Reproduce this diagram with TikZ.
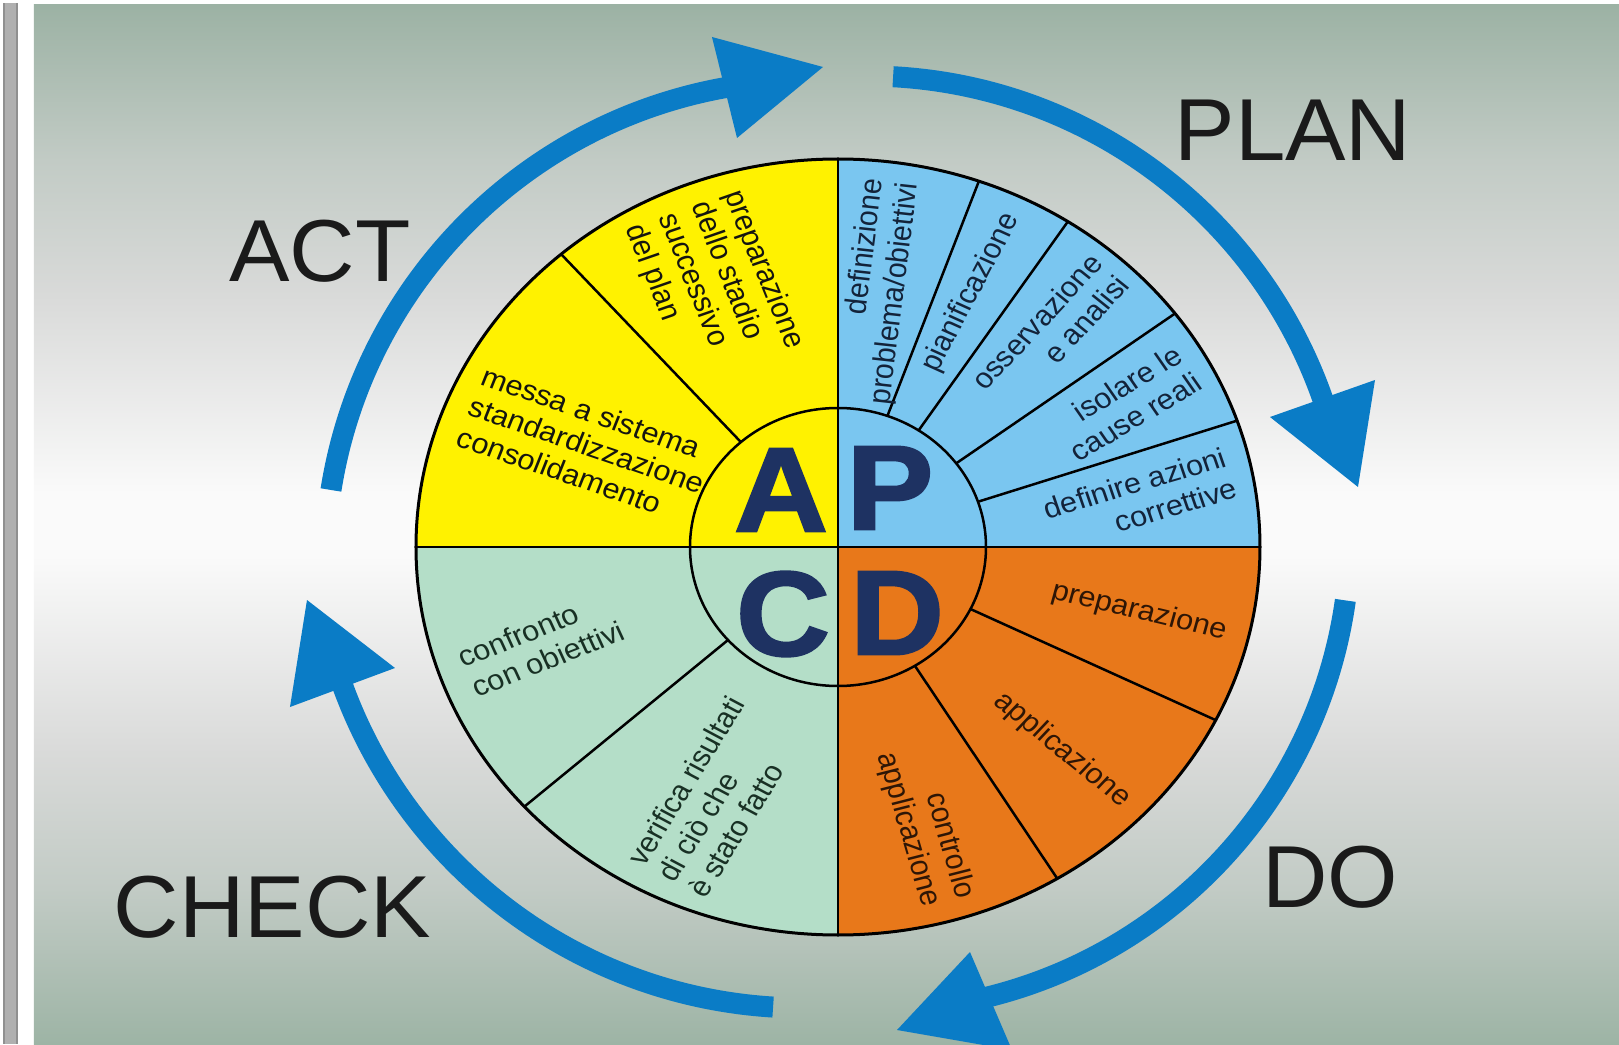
\documentclass[tikz,border=0pt]{standalone}
\usepackage{fontspec}
\setmainfont{Liberation Sans}
\newfontfamily\heavyfont[FakeBold=2]{Liberation Sans}
\usetikzlibrary{calc}
\definecolor{ylw}{HTML}{FFF200}
\definecolor{blu}{HTML}{7AC6F0}
\definecolor{org}{HTML}{E8781A}
\definecolor{grn}{HTML}{B4DEC8}
\definecolor{navy}{HTML}{1E3262}
\definecolor{arrblue}{HTML}{0A7CC6}
\definecolor{bigtext}{HTML}{1A1A1A}
\definecolor{bgA}{HTML}{9DB4A5}
\definecolor{bgB}{HTML}{C2CBC5}
\definecolor{bgC}{HTML}{D9DAD9}
\definecolor{bgD}{HTML}{FAFAFA}
\definecolor{bgE}{HTML}{9CB2A4}
\definecolor{barGray}{HTML}{B0B0B0}
\definecolor{barDark}{HTML}{909090}
\definecolor{txtY}{HTML}{151510}
\definecolor{txtB}{HTML}{13233A}
\definecolor{txtG}{HTML}{183024}
\definecolor{txtO}{HTML}{2E1606}
\pgfdeclareverticalshading{bgshade}{100bp}{color(0bp)=(bgA); color(25bp)=(bgA); color(32.5bp)=(bgB); color(39bp)=(bgC); color(48.5bp)=(bgD); color(51.5bp)=(bgD); color(61bp)=(bgC); color(67.5bp)=(bgB); color(75bp)=(bgE); color(100bp)=(bgE)}
\begin{document}
\begin{tikzpicture}[x=1pt,y=1pt,
  lbl/.style={font=\fontsize{28.5}{32.5}\selectfont, inner sep=0pt, xscale=1.08},
  big/.style={font=\fontsize{88}{90}\selectfont, text=bigtext, inner sep=0pt, xscale=1.03},
  letter/.style={font=\heavyfont\bfseries\fontsize{120}{120}\selectfont, text=navy, inner sep=0pt, xscale=1.08},
  arcline/.style={line width=21pt, draw=arrblue},
  arrhead/.style={fill=arrblue},
  rim/.style={draw=black, line width=3pt},
  divider/.style={draw=black, line width=2.5pt}]
% canvas
\useasboundingbox (-838,-497) rectangle (781,547);
\fill[white] (-838,-497) rectangle (781,547);
\shade[shading=bgshade] (-804,-497) rectangle (781,542);
\fill[barGray] (-835,-497) rectangle (-820,544);
\fill[barDark] (-835,-497) rectangle (-833,544);
\fill[barDark] (-822,-497) rectangle (-820,544);
% quadrants
\def\RX{422pt}\def\RY{388pt}
\fill[ylw] (0,0) -- (90:422 and 388) arc[start angle=90, end angle=180, x radius=\RX, y radius=\RY] -- cycle;
\fill[blu] (0,0) -- (0:422 and 388) arc[start angle=0, end angle=90, x radius=\RX, y radius=\RY] -- cycle;
\fill[org] (0,0) -- (270:422 and 388) arc[start angle=270, end angle=360, x radius=\RX, y radius=\RY] -- cycle;
\fill[grn] (0,0) -- (180:422 and 388) arc[start angle=180, end angle=270, x radius=\RX, y radius=\RY] -- cycle;
% dividers
\foreach \t in {131,70.5,57,37,19,333.5,301.3,222}
  \draw[divider] (\t:148 and 139) -- (\t:422 and 388);
\draw[divider] (-422,0) -- (422,0);
\draw[divider] (0,-388) -- (0,388);
\draw[divider] (0,0) ellipse[x radius=148pt, y radius=139pt];
\draw[rim] (0,0) ellipse[x radius=\RX, y radius=\RY];
% letters
\node[letter] (lA) at (-57,57) {A};
\node[letter] (lP) at (52,59) {P};
\node[letter] (lC) at (-55,-67) {C};
\node[letter] (lD) at (59,-66) {D};
% yellow labels
\node[lbl, text=txtY, align=left, rotate=-69.5] (y1) at (-124,260) {preparazione\\dello stadio\\successivo\\del plan};
\node[lbl, text=txtY, align=left, rotate=-20.3] (y2) at (-251,102) {messa a sistema\\standardizzazione\\consolidamento};
% blue labels
\node[lbl, text=txtB, align=right, rotate=83.2] (b1) at (40,255) {definizione\\problema/obiettivi};
\node[lbl, text=txtB, rotate=64.0] (b2) at (133,254) {pianificazione};
\node[lbl, text=txtB, align=right, rotate=49.1] (b3) at (212,214.6) {osservazione\\e analisi};
\node[lbl, text=txtB, align=right, rotate=32.7] (b4) at (288,144) {isolare le\\cause reali};
\node[lbl, text=txtB, align=right, rotate=17.6] (b5) at (302,48.5) {definire azioni\\correttive};
% orange labels
\node[lbl, text=txtO, rotate=-14.4] (o1) at (301,-65) {preparazione};
\node[lbl, text=txtO, rotate=-41.2] (o2) at (224,-203) {applicazione};
\node[lbl, text=txtO, align=right, rotate=-74.7] (o3) at (87,-278.6) {controllo\\applicazione};
% green labels
\node[lbl, text=txtG, align=left, rotate=23.0] (g1) at (-297,-97) {confronto\\con obiettivi};
\node[lbl, text=txtG, align=left, rotate=60.1] (g2) at (-122,-250) {verifica risultati\\di ciò che\\è stato fatto};
% cycle arrows: circular arcs with triangular heads
\draw[arcline] ($(-27,-19)+(171:486)$) arc[start angle=171, end angle=97.5, radius=486pt];
\fill[arrhead] (-126,510) -- (-15,480) -- (-101,409) -- cycle;
\draw[arcline] ($(29,-12)+(86.9:483)$) arc[start angle=86.9, end angle=16.5, radius=483pt];
\fill[arrhead] (432,130) -- (537,167) -- (520,60) -- cycle;
\draw[arcline] ($(35,13)+(-8:477)$) arc[start angle=-8, end angle=-78.9, radius=477pt];
\fill[arrhead] (132,-405) -- (59,-483) -- (174,-503) -- cycle;
\draw[arcline] ($(-35,29)+(266.5:490)$) arc[start angle=266.5, end angle=197.1, radius=490pt];
\fill[arrhead] (-531,-53) -- (-443,-121) -- (-548,-160) -- cycle;
% phase names
\node[big] (act) at (-518,296) {ACT};
\node[big] (plan) at (455,417) {PLAN};
\node[big] (check) at (-565.5,-360.5) {CHECK};
\node[big] (do) at (492,-330) {DO};
\end{tikzpicture}
\end{document}
